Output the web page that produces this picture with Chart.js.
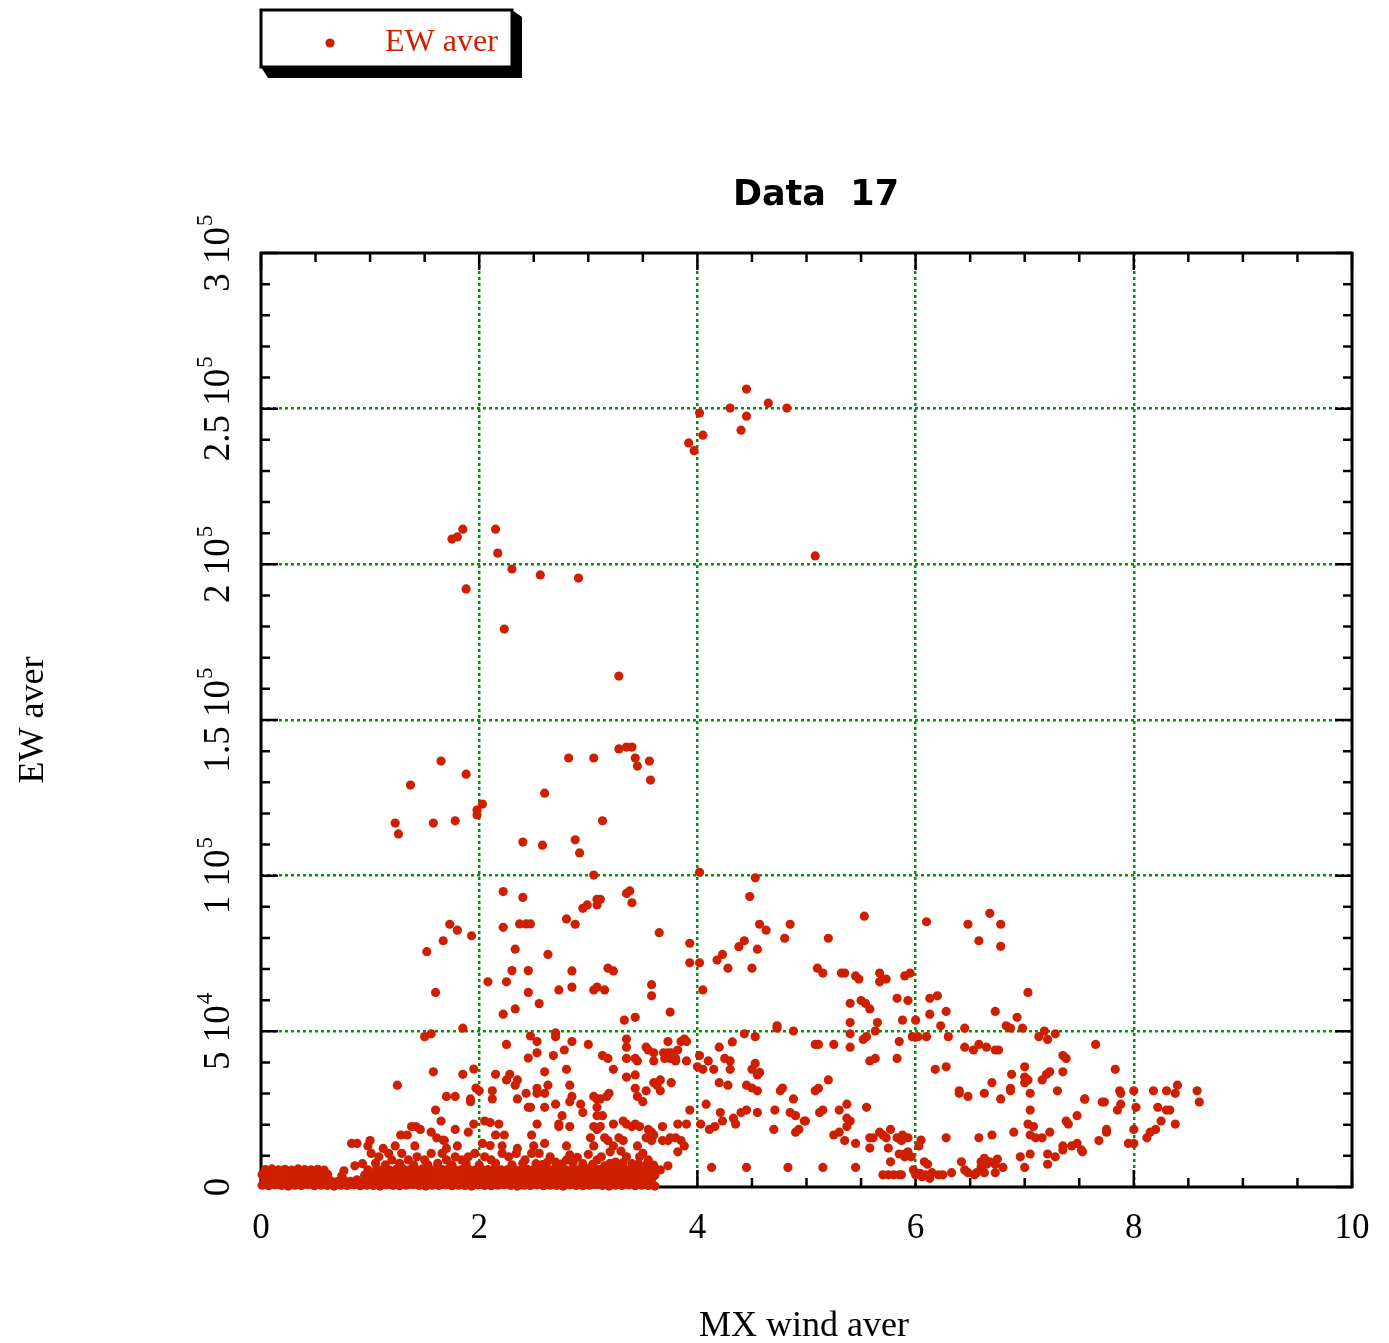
<!DOCTYPE html>
<html>
<head>
<meta charset="utf-8">
<title>Data 17</title>
<script src="https://cdn.jsdelivr.net/npm/chart.js@4.4.1/dist/chart.umd.min.js"></script>
<style>
  html, body { margin: 0; padding: 0; background: #fff; }
</style>
</head>
<body>
<canvas id="myChart" width="1389" height="1343"></canvas>
<script>
// axis ticks
var xTickValues = [0, 2, 4, 6, 8, 10]
var xTickLabels = ['0', '2', '4', '6', '8', '10']
var yTickValues = [0, 50000, 100000, 150000, 200000, 250000, 300000]
var yTickMant = ['0', '5', '1', '1.5', '2', '2.5', '3']
var yTickExp = ['', '4', '5', '5', '5', '5', '5']

// [MX wind aver, EW aver]
var peakPoints = [
  [3.92,239000],[3.97,236500],[4.02,248600],[4.05,241500],[4.30,250200],[4.40,243100],[4.45,256300],[4.45,247600],[4.65,251800],[4.82,250200],[5.08,202700],
  [1.75,208100],[1.80,208800],[1.85,211300],[2.15,211300],[2.17,203600],[2.30,198500],[2.56,196600],[2.91,195600],[1.88,192100],[2.23,179200],[3.28,164100],
  [3.28,140700],[3.35,141300],[3.40,141300],[2.82,137800],[3.05,137800],[3.43,137800],[3.56,136800],[3.45,135200],[3.57,130700],[1.65,136800],[1.88,132600],
  [1.37,129100],[2.60,126500],[2.03,123000],[1.98,121100],[1.98,119500],[1.23,116900],[1.26,113400],[1.58,116900],[1.78,117600],[3.13,117600],[2.40,110800],
  [2.58,109800],[2.88,111500],[2.92,107300],[3.05,100200],[4.02,101100],[4.53,99300]
]

var upperPoints = [
  [2.22,94900],[2.40,93000],[1.73,84400],[1.80,82500],[1.67,79100],[1.93,80700],[1.52,75600],[2.22,83400],[2.37,84500],[2.43,84500],[2.47,84500],
  [2.33,76400],[2.30,69500],[2.45,69500],[2.08,65900],[2.25,65900],[1.60,62500],[2.45,62500],[2.22,55500],[2.33,57200],[1.85,51000],
  [4.48,93300],[3.35,94300],[3.38,95100],[3.40,91300],[3.08,92400],[3.11,92400],[3.08,90600],[2.95,89500],[2.99,90600],[2.80,86100],[2.88,84400],
  [3.65,81700],[4.57,84400],[4.63,82500],[4.85,84400],[4.80,79900],[4.43,79100],[4.38,77200],[4.55,76400],[3.93,78300],[2.63,74700],[4.18,72900],
  [4.23,74700],[4.28,70300],[4.50,70300],[3.93,72000],[4.02,72000],[2.85,69400],[3.18,70300],[3.23,69400],[4.05,63300],[2.85,64200],[2.73,63300],
  [3.05,63300],[3.08,64200],[3.15,63300],[3.58,65000],[3.58,61400],[2.55,58900],[3.75,56200],[3.33,53600],[3.43,54500],[4.73,51800],[4.73,51000],[4.88,50100],
  [5.53,87000],[5.20,79900],[6.10,85200],[6.48,84400],[6.68,87900],[6.78,84400],[6.58,79100],[6.78,77300],[5.10,70300],[5.15,68700],[5.32,68700],
  [5.35,68700],[5.45,67800],[5.48,66800],[5.67,68700],[5.67,65900],[5.70,66800],[5.73,66800],[5.90,67800],[5.95,68700],[5.40,59000],[5.50,59900],
  [5.54,59000],[5.58,57200],[5.83,60600],[5.93,59900],[6.13,60600],[6.20,61400],[7.03,62500],[6.28,56400],[6.13,55500],[6.73,56400],[6.93,54500],
  [5.40,52800],[5.65,52800],[5.88,53600],[6.00,53600],[6.23,51800],[6.45,51000],[6.83,51800],[6.87,51000],[6.98,51000],[7.18,50100]
]

var leftLower = [
  [1.50,48300],[1.56,49200],[2.47,48500],[2.25,45800],[2.45,41400],[1.58,37000],[1.95,37900],[1.85,36200],[2.15,36200],[2.28,36200],[2.25,34400],
  [2.35,34400],[2.33,32700],[1.97,31800],[2.00,30900],[2.12,30900],[1.25,32700],[1.70,29100],[1.78,29100],[1.92,28300],[1.92,27400],[2.12,28300],
  [2.35,28300],[2.43,30100],[1.60,24700],[2.45,25600],[1.65,21200],[1.95,20200],[2.05,21200],[2.10,20700],[2.18,20200],
  [2.15,16700],[2.23,16700],[2.48,16700],[1.28,16700],[1.34,16700],[1.38,19400],[1.42,19400],[1.46,18500],[1.56,17600],[1.61,15800],[1.68,14900],
  [0.83,14000],[0.88,14000],[1.00,14900],[0.98,13200],[1.23,13200],[1.41,13200],[1.80,13200],[2.03,14000],[2.21,13200],[1.90,17600],[1.78,18500],
  [1.12,12400],[1.67,15100],[1.70,12400],[2.10,13300],[2.35,12400],
  [1.01,10800],[1.08,9700],[1.17,10800],[1.20,8700],[1.29,10800],[1.35,8700],[1.43,9700],[1.50,8700],[1.56,10800],[1.66,10800],[1.70,8700],
  [1.78,9700],[1.84,8700],[1.90,9700],[1.96,10800],[2.05,9700],[2.11,8700],[2.21,10800],[2.27,9700],[2.34,10800],[2.42,8700],[2.48,10800],
  [1.05,7600],[1.14,7100],[1.27,7600],[1.40,7100],[1.53,7100],[1.62,7600],[1.75,7100],[1.88,7600],[2.00,7100],[2.15,7600],[2.30,7100],[2.40,7600],
  [0.86,6800],[0.93,7500],[0.76,5200]
]

var midLower = [
  [2.70,49500],[2.70,48300],[2.53,46700],[2.85,46700],[3.00,45800],[3.35,47500],[3.35,44900],[3.73,46700],[3.85,46700],[3.88,47500],[3.90,46700],
  [3.53,44900],[3.55,44000],[3.60,43100],[2.78,44000],[2.68,42200],[3.13,42200],[3.18,41300],[3.35,41300],[3.43,41300],[3.45,40500],[3.69,43100],
  [3.73,43100],[3.76,43100],[3.70,41300],[3.75,41300],[3.80,41300],[3.80,40500],[3.82,44000],[3.90,40500],[3.60,40500],[2.53,43100],[3.23,37800],
  [2.80,37800],[2.60,37000],[3.35,35300],[3.43,36000],[3.60,33500],[3.66,34400],[3.63,32700],[3.66,30900],[3.76,33500],[3.43,31700],[3.53,30900],
  [3.45,29100],[3.50,27400],[3.19,30100],[3.17,29100],[3.05,29100],[3.08,28300],[3.11,28300],[2.83,32700],[2.85,29100],[2.83,27400],[2.53,31700],
  [2.53,30100],[2.60,30100],[2.63,32700],[2.70,26600],[2.60,25600],[2.47,25600],[2.93,26600],[2.95,23900],[3.08,25600],[3.08,22900],[3.13,22900],
  [2.76,22900],[2.73,20200],[2.73,19400],[2.53,20200],[2.83,19400],[3.05,19400],[3.08,18500],[3.11,19400],[3.23,20200],[3.32,21200],[3.35,20200],
  [3.40,19400],[3.43,20200],[3.47,19400],[3.55,18500],[3.57,17600],[3.60,16700],[3.68,19400],[3.82,20200],[3.90,20200],
  [3.02,15800],[3.05,13200],[3.15,15800],[3.18,14900],[3.23,13200],[3.28,15800],[3.32,14900],[3.45,13200],[3.53,15800],[3.58,14900],[3.58,17600],
  [3.68,14900],[3.73,14900],[3.75,15800],[3.80,15800],[3.85,14900],[3.88,13200],[3.82,11300],[3.73,6800],[2.80,13200],[2.60,14000],[2.50,13200],
  [3.20,11300],[3.12,9700],[3.08,8700],[2.83,10300],[2.80,8700],[2.65,9700],[3.35,9700],[3.47,9700],[3.55,8700],[3.66,5500],
  [2.55,10800],[2.70,8000],[2.90,9500],[2.95,7500],[3.00,10500],[3.25,8000],[3.40,7500],[3.50,10800],[3.60,7000],[2.58,7200],[3.15,6800],[3.30,11500],
  [2.52,7500],[2.62,7800],[2.76,7400],[2.86,7600],[3.04,7300],[3.20,7600],[3.32,7800],[3.46,7400],[3.54,7500]
]

var rightLower = [
  [4.43,49200],[4.53,48300],[4.32,46600],[4.20,44900],[4.02,42200],[4.10,40500],[4.15,37800],[4.25,41300],[4.30,40500],[4.30,37800],[4.00,38600],
  [4.05,37800],[4.50,37800],[4.57,36800],[4.53,39700],[4.55,36000],[4.20,33500],[4.28,32700],[4.45,32700],[4.50,31800],[4.55,30900],[4.76,30900],
  [4.78,31800],[4.88,28300],[4.08,26600],[3.93,24700],[4.21,23900],[4.23,21200],[4.33,22100],[4.35,20200],[4.40,23900],[4.45,24700],[4.55,23900],
  [4.71,24700],[4.85,23900],[4.90,22900],[4.98,21200],[4.70,18500],[4.90,17600],[4.93,18500],[4.03,20200],[4.11,18500],[4.16,19400],
  [4.13,6300],[4.45,6300],[4.83,6300]
]

var farLower = [
  [7.13,48300],[7.21,47400],[7.28,49200],[5.40,49200],[5.63,50100],[5.55,48300],[5.52,47400],[5.97,48300],[6.02,48300],[6.10,48300],[6.30,48300],
  [5.08,45800],[5.11,45800],[5.25,45800],[5.40,44900],[5.85,46700],[6.45,44900],[6.53,44000],[6.58,45800],[6.65,44900],[6.73,44000],[6.76,44000],
  [5.58,40500],[5.63,41300],[5.83,41300],[6.18,37800],[6.28,38600],[7.35,42200],[7.38,41300],[7.00,38600],[7.00,35300],[7.03,34400],[7.00,33500],
  [6.88,36200],[7.23,37000],[7.20,36200],[7.16,34400],[7.35,37000],[6.70,33500],[6.87,31700],[6.87,30900],[7.05,30100],[7.30,30900],[6.40,30900],
  [6.40,30100],[6.48,29100],[6.63,30100],[6.78,28300],[5.20,34400],[5.08,30900],[5.11,31700],[5.15,24700],[5.12,23900],[5.30,24700],[5.37,26600],
  [5.37,22100],[5.40,21200],[5.37,19400],[5.55,25600],[4.99,21200],[5.25,16700],[5.30,17600],[5.35,14900],[5.45,14000],[5.58,15800],[5.61,15800],
  [5.58,12500],[5.67,17600],[5.70,16700],[5.73,15800],[5.77,18500],[5.75,12500],[5.83,15800],[5.88,16700],[5.90,15800],[5.93,15800],[5.87,14900],
  [5.85,10600],[5.90,10600],[5.93,11300],[5.96,9700],[5.90,9700],[5.77,8100],[5.15,6300],[5.45,6300],[5.70,3900],[5.75,3900],[5.80,3900],
  [5.85,3900],[5.87,3900],[6.03,13200],[6.05,15100],[6.28,15800],[6.58,15800],[6.70,16700],[6.90,17600],[7.03,20200],[7.08,19400],[7.05,16700],
  [7.10,15800],[7.16,15800],[7.23,17600],[7.38,21200],[7.40,20200],[7.48,22900],[7.55,28300],[7.05,24700],[7.35,13200],[7.35,11900],[7.43,13200],
  [7.48,14000],[7.52,11900],[7.21,10600],[7.28,9700],[7.21,7300],[7.05,10600],[6.96,9700],[7.00,6300],[6.42,8100],[6.45,5500],[6.48,4600],
  [6.54,3900],[6.56,4600],[6.60,8100],[6.63,9200],[6.68,8100],[6.65,7300],[6.60,6500],[6.73,7300],[6.75,9000],[6.80,6300],[6.73,4600],
  [6.63,4600],[5.98,5500],[6.00,3900],[6.04,4400],[6.08,8100],[6.11,7300],[6.15,4600],[6.21,3900],[6.25,3900],[6.33,4600],[6.13,2800],
  [6.06,3300],[6.09,3900],
  [7.65,45800],[7.83,37800],[7.55,28200],[7.71,27300],[7.73,27300],[7.87,30900],[7.88,30100],[8.00,30900],[8.18,30900],[8.30,30900],[8.40,32700],
  [8.38,30100],[8.58,30900],[8.60,27300],[7.88,26600],[7.85,24700],[8.02,25600],[8.22,25600],[8.30,24700],[8.33,24700],[8.25,21200],[8.38,20200],
  [8.20,18500],[8.15,17600],[8.12,15800],[8.00,18500],[7.95,14000],[8.00,14000],[7.75,18500],[7.75,17600],[7.68,14900],[7.53,11300]
]

// dense band near zero
var baseRowA = [
  [0.01,600],[0.07,400],[0.13,700],[0.19,500],[0.25,300],[0.31,600],[0.37,500],[0.43,800],[0.49,400],[0.55,600],[0.61,500],[0.67,300],
  [0.73,600],[0.79,500],[0.85,700],[0.91,400],[0.97,600],[1.03,500],[1.09,300],[1.15,700],[1.21,500],[1.27,400],[1.33,600],[1.39,800],
  [1.45,500],[1.51,300],[1.57,600],[1.63,500],[1.69,700],[1.75,400],[1.81,600],[1.87,500],[1.93,300],[1.99,700],[2.05,500],[2.11,400],
  [2.17,600],[2.23,800],[2.29,500],[2.35,300],[2.41,600],[2.47,500],[2.53,700],[2.59,400],[2.65,600],[2.71,500],[2.77,300],[2.83,700],
  [2.89,500],[2.95,400],[3.01,600],[3.07,800],[3.13,500],[3.19,300],[3.25,600],[3.31,500],[3.37,700],[3.43,400],[3.49,600],[3.55,500],[3.61,300]
]
var baseRowB = [
  [0.04,2200],[0.10,2400],[0.16,2000],[0.22,2300],[0.28,2100],[0.34,2500],[0.40,2200],[0.46,1900],[0.52,2300],[0.58,2100],[0.64,2000],[0.70,1700],
  [0.76,2200],[0.82,1800],[0.88,2300],[0.94,2100],[1.00,2400],[1.06,2200],[1.12,2000],[1.18,2300],[1.24,2500],[1.30,2100],[1.36,2200],[1.42,2400],
  [1.48,2000],[1.54,2300],[1.60,2100],[1.66,2500],[1.72,2200],[1.78,1900],[1.84,2300],[1.90,2100],[1.96,2400],[2.02,2200],[2.08,2000],[2.14,2300],
  [2.20,2500],[2.26,2100],[2.32,2200],[2.38,2400],[2.44,2000],[2.50,2300],[2.56,2100],[2.62,2500],[2.68,2200],[2.74,1900],[2.80,2300],[2.86,2100],
  [2.92,2400],[2.98,2200],[3.04,2000],[3.10,2300],[3.16,2500],[3.22,2100],[3.28,2200],[3.34,2400],[3.40,2000],[3.46,2300],[3.52,2100],[3.58,2400]
]
var baseRowC = [
  [0.01,3900],[0.07,4100],[0.13,3700],[0.19,4000],[0.25,3800],[0.31,4200],[0.37,3900],[0.43,3600],[0.49,4000],[0.55,3800],[0.61,4100],[0.74,3500],
  [0.95,3800],[1.03,4000],[1.09,4200],[1.15,3800],[1.21,3900],[1.27,4100],[1.33,3700],[1.39,4000],[1.45,4200],[1.51,3800],[1.57,3900],[1.63,4100],
  [1.69,3700],[1.75,4000],[1.81,4200],[1.87,3800],[1.93,3900],[1.99,4100],[2.05,3700],[2.11,4000],[2.17,4200],[2.23,3800],[2.29,3900],[2.35,4100],
  [2.41,3700],[2.47,4000],[2.53,4200],[2.59,3800],[2.65,3900],[2.71,4100],[2.77,3700],[2.83,4000],[2.89,4200],[2.95,3800],[3.01,3900],[3.07,4100],
  [3.13,3700],[3.19,4000],[3.25,4200],[3.31,3800],[3.37,3900],[3.43,4100],[3.49,3700],[3.55,4000],[3.61,3800]
]
var baseRowD = [
  [0.04,5600],[0.10,5800],[0.16,5500],[0.22,5700],[0.28,5400],[0.34,5800],[0.40,5600],[0.46,5500],[0.52,5700],[0.58,5400],
  [0.98,5500],[1.06,5800],[1.12,5600],[1.18,5400],[1.24,5700],[1.30,5900],[1.36,5500],[1.42,5600],[1.48,5800],[1.54,5400],[1.60,5700],
  [1.66,5600],[1.72,5900],[1.78,5500],[1.84,5600],[1.90,5800],[1.96,5400],[2.02,5700],[2.08,5600],[2.14,5900],[2.20,5500],[2.26,5600],
  [2.32,5800],[2.38,5400],[2.44,5700],[2.50,5600],[2.56,5900],[2.62,5500],[2.68,5600],[2.74,5800],[2.80,5400],[2.86,5700],[2.92,5600],
  [2.98,5900],[3.04,5500],[3.10,5600],[3.16,5800],[3.22,5400],[3.28,5700],[3.34,5600],[3.40,5900],[3.46,5500],[3.52,5600],[3.58,5300]
]

var red = 'rgb(206,32,0)'
var green = 'rgb(0,150,0)'
var serif = '"Liberation Serif", "Times New Roman", serif'

var allPoints = [].concat(baseRowA, baseRowB, baseRowC, baseRowD, leftLower, midLower, rightLower, farLower, upperPoints, peakPoints)

var frameAndText = {
  id: 'frameAndText',
  beforeDatasetsDraw(chart) {
    const { ctx, chartArea: a, scales: { x, y } } = chart
    ctx.save()
    ctx.strokeStyle = '#000'
    ctx.lineWidth = 2.5
    ctx.beginPath()
    // minor ticks every 0.5 / 10000, long ones at labelled values
    for (let i = 0; i <= 20; i++) {
      const px = x.getPixelForValue(i * 0.5)
      const len = i % 4 === 0 ? 17 : 9
      ctx.moveTo(px, a.bottom); ctx.lineTo(px, a.bottom - len)
      ctx.moveTo(px, a.top); ctx.lineTo(px, a.top + len)
    }
    for (let i = 0; i <= 30; i++) {
      const py = y.getPixelForValue(i * 10000)
      const len = i % 5 === 0 ? 17 : 9
      ctx.moveTo(a.left, py); ctx.lineTo(a.left + len, py)
      ctx.moveTo(a.right, py); ctx.lineTo(a.right - len, py)
    }
    ctx.stroke()
    ctx.lineWidth = 3
    ctx.strokeRect(a.left, a.top, a.right - a.left, a.bottom - a.top)
    ctx.restore()
  },
  afterDraw(chart) {
    const { ctx, scales: { x, y } } = chart
    ctx.save()
    ctx.fillStyle = '#000'

    // x tick labels
    ctx.font = '35px ' + serif
    ctx.textAlign = 'center'
    ctx.textBaseline = 'alphabetic'
    xTickValues.forEach((v, i) => {
      ctx.fillText(xTickLabels[i], x.getPixelForValue(v), 1238)
    })

    // y tick labels, rotated, with exponent
    yTickValues.forEach((v, i) => {
      const py = y.getPixelForValue(v)
      const main = yTickMant[i] + (yTickExp[i] ? ' 10' : '')
      ctx.save()
      ctx.translate(229, py)
      ctx.rotate(-Math.PI / 2)
      ctx.textAlign = 'left'
      ctx.font = '37px ' + serif
      const w1 = ctx.measureText(main).width
      ctx.font = '23px ' + serif
      const w2 = yTickExp[i] ? ctx.measureText(yTickExp[i]).width + 1 : 0
      const start = -(w1 + w2) / 2
      ctx.font = '37px ' + serif
      ctx.fillText(main, start, 0)
      if (yTickExp[i]) {
        ctx.font = '23px ' + serif
        ctx.fillText(yTickExp[i], start + w1 + 1, -17)
      }
      ctx.restore()
    })

    // axis titles
    ctx.font = '36px ' + serif
    ctx.textAlign = 'center'
    ctx.fillText('MX wind aver', 804, 1336)
    ctx.save()
    ctx.translate(43, 720)
    ctx.rotate(-Math.PI / 2)
    ctx.fillText('EW aver', 0, 0)
    ctx.restore()

    // title
    ctx.font = 'bold 35px "DejaVu Sans", sans-serif'
    ctx.fillText('Data  17', 816, 205)

    // legend box with drop shadow
    ctx.fillStyle = '#000'
    ctx.beginPath()
    ctx.moveTo(512, 10); ctx.lineTo(522, 17); ctx.lineTo(522, 78)
    ctx.lineTo(268, 78); ctx.lineTo(261, 67); ctx.lineTo(512, 67)
    ctx.closePath()
    ctx.fill()
    ctx.fillStyle = '#fff'
    ctx.fillRect(261, 10, 251, 57)
    ctx.strokeStyle = '#000'
    ctx.lineWidth = 3
    ctx.strokeRect(261, 10, 251, 57)
    ctx.fillStyle = red
    ctx.beginPath()
    ctx.arc(330, 43, 4.6, 0, Math.PI * 2)
    ctx.fill()
    ctx.font = '32px ' + serif
    ctx.textAlign = 'left'
    ctx.fillText('EW aver', 385, 51)
    ctx.restore()
  }
}

function gridColor(lo, hi) {
  return (c) => {
    const v = c.tick ? c.tick.value : null
    return (v === lo || v === hi) ? 'rgba(0,0,0,0)' : green
  }
}

new Chart(document.getElementById('myChart'), {
  type: 'scatter',
  data: {
    datasets: [{
      label: 'EW aver',
      data: allPoints.map((p) => ({ x: p[0], y: p[1] })),
      backgroundColor: red,
      borderWidth: 0,
      pointRadius: 4.6,
      pointHoverRadius: 4.6,
      clip: false
    }]
  },
  options: {
    responsive: false,
    animation: false,
    layout: { padding: { left: 261, right: 37, top: 253, bottom: 156 } },
    plugins: { legend: { display: false }, tooltip: { enabled: false }, title: { display: false } },
    scales: {
      x: {
        type: 'linear', min: 0, max: 10,
        afterBuildTicks: (s) => { s.ticks = xTickValues.map((v) => ({ value: v })) },
        afterFit: (s) => { s.height = 0 },
        ticks: { display: false },
        grid: { color: gridColor(0, 10), lineWidth: 2.5, drawTicks: false },
        border: { display: false, dash: [3, 3] }
      },
      y: {
        type: 'linear', min: 0, max: 300000,
        afterBuildTicks: (s) => { s.ticks = yTickValues.map((v) => ({ value: v })) },
        afterFit: (s) => { s.width = 0 },
        ticks: { display: false },
        grid: { color: gridColor(0, 300000), lineWidth: 2.5, drawTicks: false },
        border: { display: false, dash: [3, 3] }
      }
    }
  },
  plugins: [frameAndText]
})
</script>
</body>
</html>
